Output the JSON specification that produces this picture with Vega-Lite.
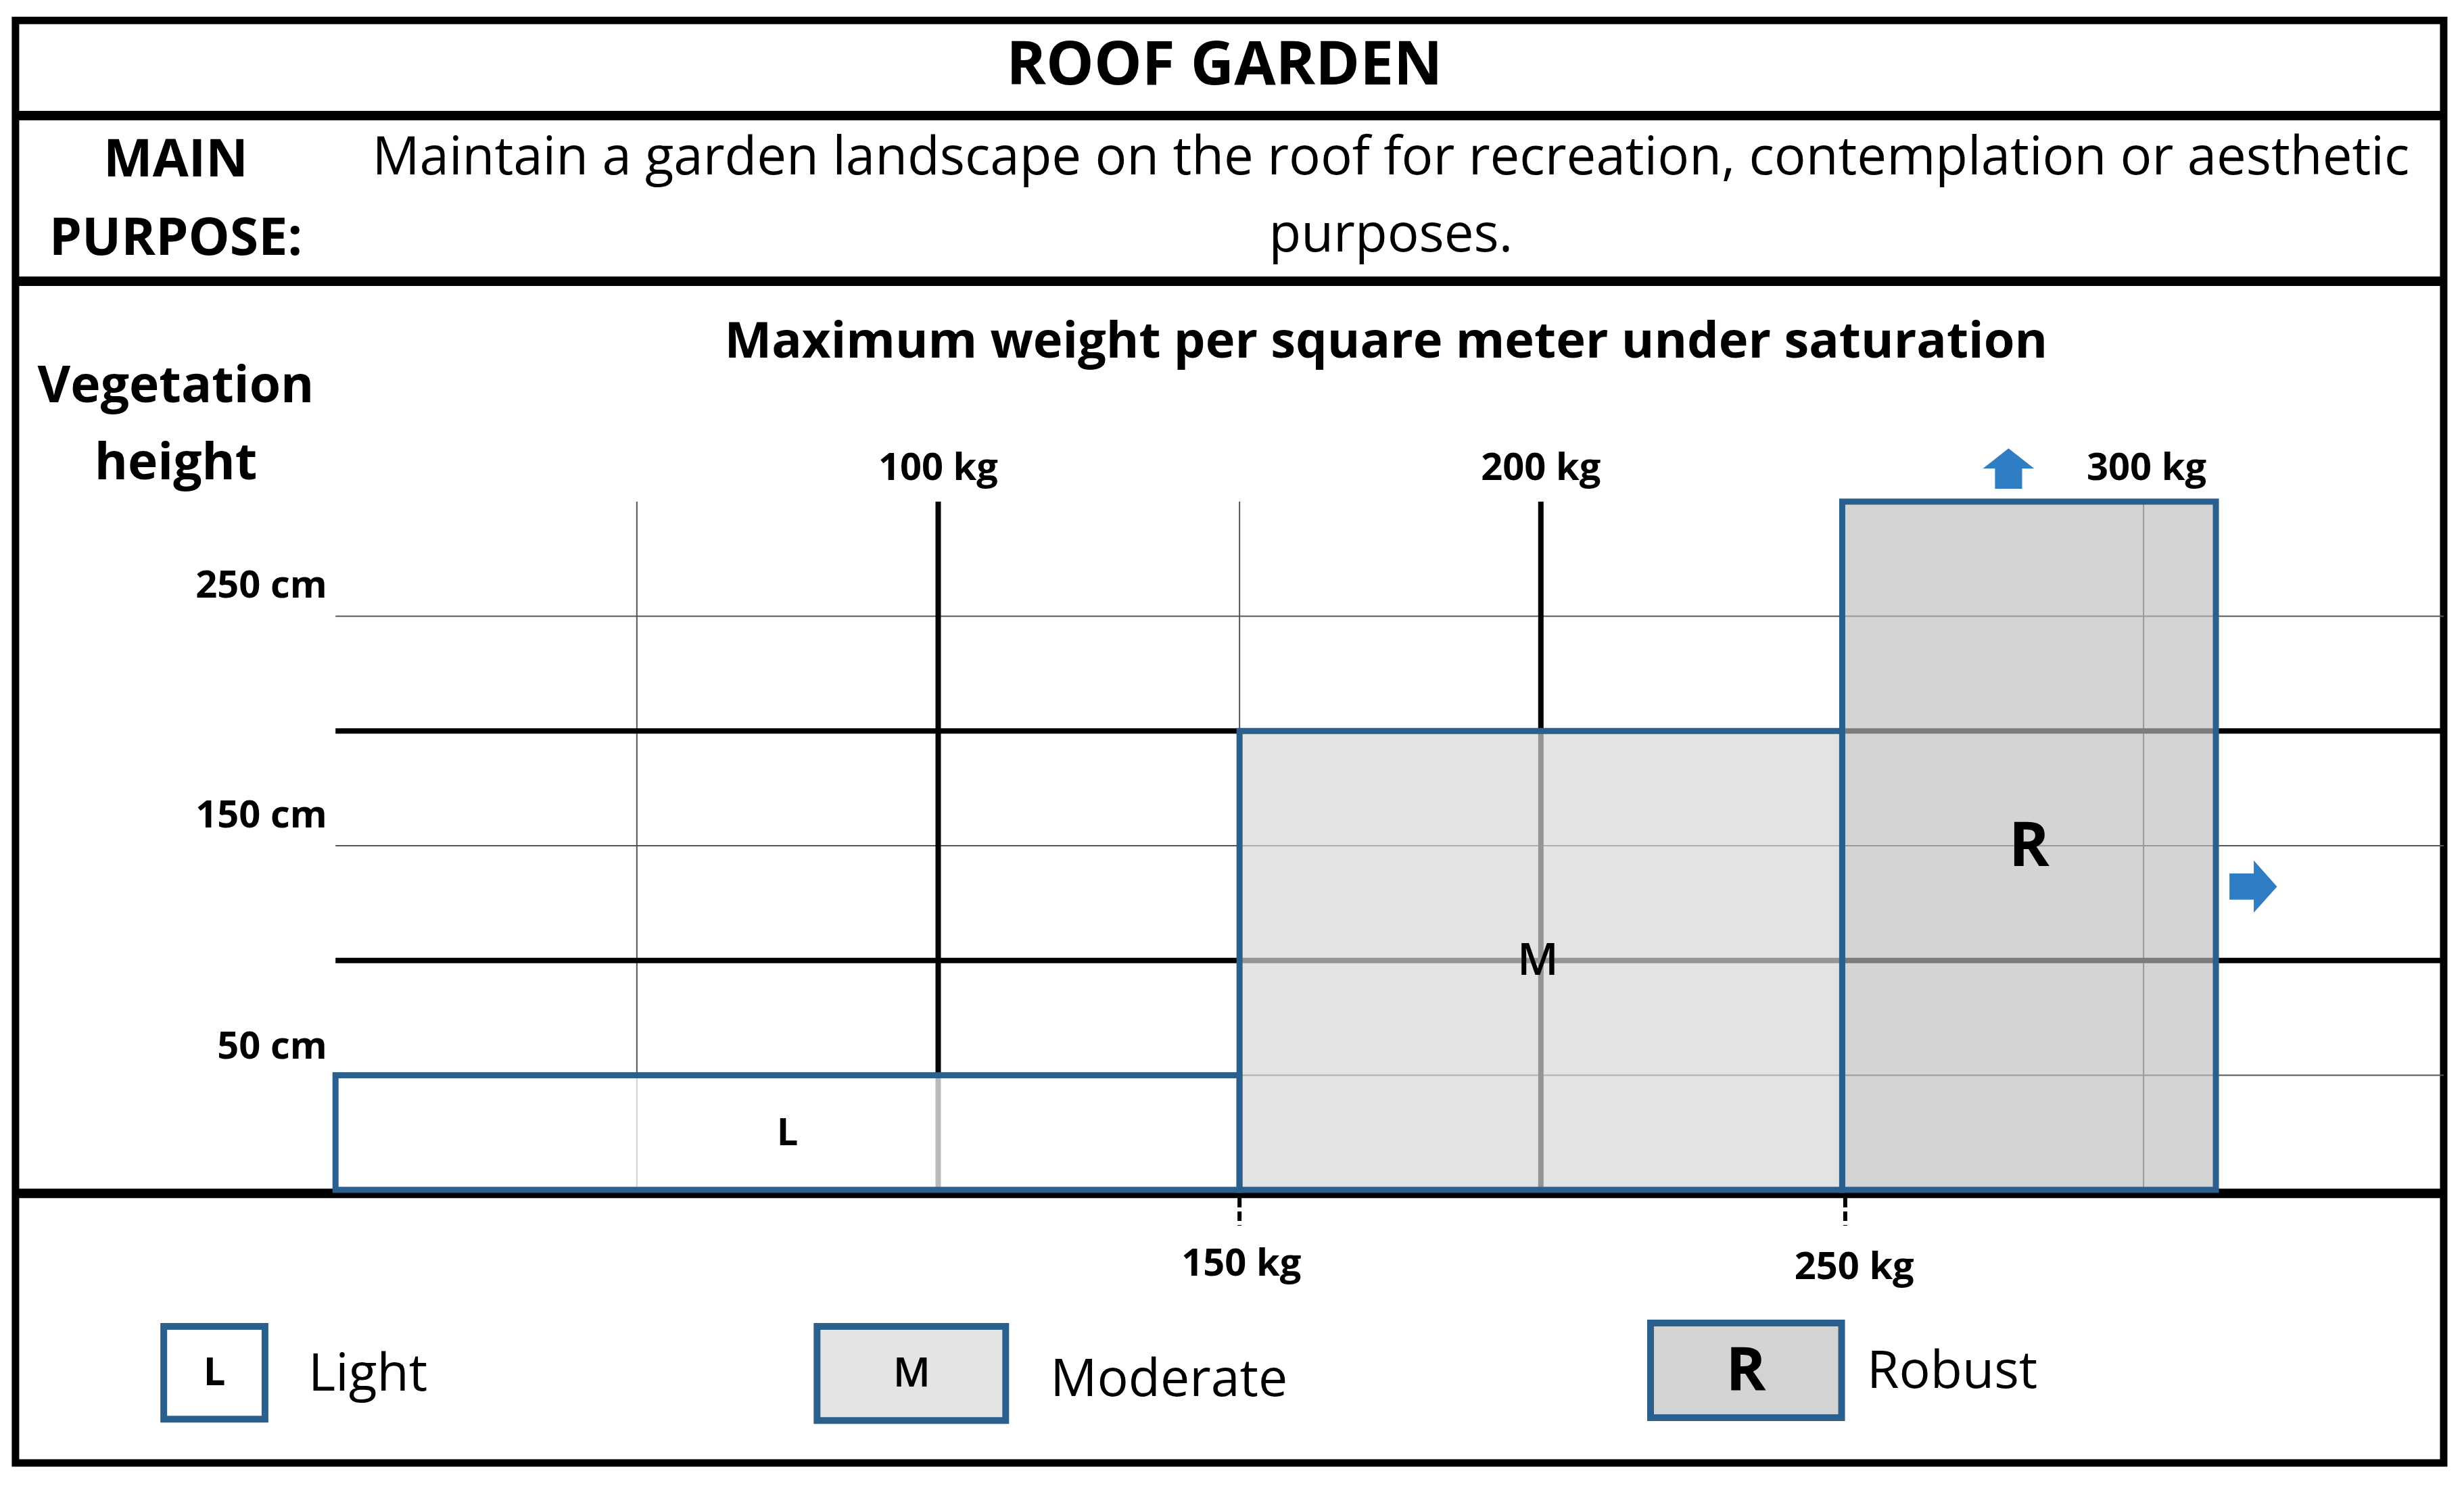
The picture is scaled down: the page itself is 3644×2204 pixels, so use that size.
{
  "$schema": "https://vega.github.io/schema/vega-lite/v6.json",
  "width": 3644,
  "height": 2204,
  "autosize": {"type": "fit", "contains": "padding"},
  "padding": 0,
  "background": "white",
  "config": {"view": {"stroke": null}, "text": {"font": "Open Sans", "color": "black"}},
  "datasets": {
    "frame": [{"x": -53.1, "x2": 349.8, "y": 509.7, "y2": -119.0}],
    "seps": [
      {"x": -53.1, "x2": 349.8, "y": 468.2, "y2": 468.2},
      {"x": -53.1, "x2": 349.8, "y": 396.0, "y2": 396.0},
      {"x": -53.1, "x2": 349.8, "y": -1.5, "y2": -1.5}
    ],
    "thin": [
      {"x": 0, "x2": 349.8, "y": 50, "y2": 50},
      {"x": 0, "x2": 349.8, "y": 150, "y2": 150},
      {"x": 0, "x2": 349.8, "y": 250, "y2": 250},
      {"x": 50, "x2": 50, "y": 0, "y2": 300},
      {"x": 150, "x2": 150, "y": 0, "y2": 300},
      {"x": 300, "x2": 300, "y": 0, "y2": 300}
    ],
    "thick": [
      {"x": 0, "x2": 349.8, "y": 100, "y2": 100},
      {"x": 0, "x2": 349.8, "y": 200, "y2": 200},
      {"x": 100, "x2": 100, "y": 0, "y2": 300},
      {"x": 200, "x2": 200, "y": 0, "y2": 300}
    ],
    "boxes": [
      {"cls": "L", "x": 0, "x2": 150, "y": 0, "y2": 50},
      {"cls": "M", "x": 150, "x2": 250, "y": 0, "y2": 200},
      {"cls": "R", "x": 250, "x2": 312, "y": 0, "y2": 300}
    ],
    "legboxes": [
      {"cls": "L", "x": -28.5, "x2": -11.7, "y": -59.5, "y2": -99.9},
      {"cls": "M", "x": 79.9, "x2": 111.2, "y": -59.5, "y2": -100.5},
      {"cls": "R", "x": 218.2, "x2": 249.9, "y": -58.0, "y2": -99.3}
    ],
    "ticks": [
      {"x": 150, "x2": 150, "y": -3.5, "y2": -15.6},
      {"x": 250.5, "x2": 250.5, "y": -3.5, "y2": -15.6}
    ],
    "arrows": [
      {"dir": "up", "x": 277.6, "y": 314.4},
      {"dir": "right", "x": 318.2, "y": 132.2}
    ],
    "texts": [
      {"role": "title", "label": "ROOF GARDEN", "x": 147.5, "y": 489.7},
      {"role": "head", "label": "MAIN", "x": -26.5, "y": 448.6},
      {"role": "head", "label": "PURPOSE:", "x": -26.5, "y": 414.4},
      {"role": "purpose", "label": "Maintain a garden landscape on the roof for recreation, contemplation or aesthetic", "x": 175.1, "y": 449.3},
      {"role": "purpose", "label": "purposes.", "x": 175.1, "y": 415.8},
      {"role": "ctitle", "label": "Maximum weight per square meter under saturation", "x": 174.3, "y": 369.2},
      {"role": "ytitle", "label": "Vegetation", "x": -26.5, "y": 350.0},
      {"role": "ytitle", "label": "height", "x": -26.5, "y": 316.4},
      {"role": "xtick", "label": "100 kg", "x": 100, "y": 314.4},
      {"role": "xtick", "label": "200 kg", "x": 200, "y": 314.4},
      {"role": "xtick", "label": "300 kg", "x": 300.5, "y": 314.4},
      {"role": "xtick", "label": "150 kg", "x": 150.3, "y": -32.5},
      {"role": "xtick", "label": "250 kg", "x": 252, "y": -34},
      {"role": "ytick", "label": "250 cm", "x": -1.4, "y": 263},
      {"role": "ytick", "label": "150 cm", "x": -1.4, "y": 163},
      {"role": "ytick", "label": "50 cm", "x": -1.4, "y": 62.3},
      {"role": "boxL", "label": "L", "x": 75, "y": 24.5},
      {"role": "boxM", "label": "M", "x": 199.5, "y": 99.7},
      {"role": "boxR", "label": "R", "x": 281, "y": 149},
      {"role": "legL", "label": "L", "x": -20.1, "y": -80},
      {"role": "legM", "label": "M", "x": 95.6, "y": -80.5},
      {"role": "legR", "label": "R", "x": 234, "y": -79.6},
      {"role": "legtext", "label": "Light", "x": -4.5, "y": -87.5},
      {"role": "legtext", "label": "Moderate", "x": 118.6, "y": -89.9},
      {"role": "legtext", "label": "Robust", "x": 254.1, "y": -86.3}
    ]
  },
  "encoding": {
    "x": {"field": "x", "type": "quantitative", "scale": {"domain": [-55.67, 353.17], "nice": false, "zero": false}, "axis": null},
    "y": {"field": "y", "type": "quantitative", "scale": {"domain": [-130.8, 518.6], "nice": false, "zero": false}, "axis": null}
  },
  "resolve": {"scale": {"fill": "independent", "fillOpacity": "independent"}},
  "layer": [
    {
      "data": {"name": "seps"},
      "mark": {"type": "rule", "color": "black", "strokeWidth": 14},
      "encoding": {"x2": {"field": "x2"}, "y2": {"field": "y2"}}
    },
    {
      "data": {"name": "frame"},
      "mark": {"type": "rect", "fill": "white", "fillOpacity": 0, "stroke": "black", "strokeWidth": 11},
      "encoding": {"x2": {"field": "x2"}, "y2": {"field": "y2"}}
    },
    {
      "data": {"name": "thin"},
      "mark": {"type": "rule", "color": "#555555", "strokeWidth": 2},
      "encoding": {"x2": {"field": "x2"}, "y2": {"field": "y2"}}
    },
    {
      "data": {"name": "thick"},
      "mark": {"type": "rule", "color": "black", "strokeWidth": 8},
      "encoding": {"x2": {"field": "x2"}, "y2": {"field": "y2"}}
    },
    {
      "data": {"name": "boxes"},
      "mark": {"type": "rect", "stroke": "#2b5f8e", "strokeWidth": 9, "strokeOpacity": 1},
      "encoding": {
        "x2": {"field": "x2"},
        "y2": {"field": "y2"},
        "fill": {"field": "cls", "type": "nominal", "scale": {"domain": ["L", "M", "R"], "range": ["#ffffff", "#d6d6d6", "#bebebe"]}, "legend": null},
        "fillOpacity": {"field": "cls", "type": "ordinal", "scale": {"domain": ["L", "M", "R"], "range": [0.73, 0.655, 0.68]}, "legend": null}
      }
    },
    {
      "data": {"name": "legboxes"},
      "mark": {"type": "rect", "stroke": "#2b5f8e", "strokeWidth": 10},
      "encoding": {
        "x2": {"field": "x2"},
        "y2": {"field": "y2"},
        "fill": {"field": "cls", "type": "nominal", "scale": {"domain": ["L", "M", "R"], "range": ["#ffffff", "#e4e4e4", "#d3d3d3"]}, "legend": null}
      }
    },
    {
      "data": {"name": "ticks"},
      "mark": {"type": "rule", "color": "black", "strokeWidth": 6, "strokeDash": [14, 6]},
      "encoding": {"x2": {"field": "x2"}, "y2": {"field": "y2"}}
    },
    {
      "data": {"name": "arrows"},
      "transform": [{"filter": {"field": "dir", "equal": "up"}}],
      "mark": {"type": "point", "filled": true, "color": "#2f7ec4", "opacity": 1, "size": 5730, "shape": "M0,-0.79L1,0L0.53,0L0.53,0.79L-0.53,0.79L-0.53,0L-1,0Z"}
    },
    {
      "data": {"name": "arrows"},
      "transform": [{"filter": {"field": "dir", "equal": "right"}}],
      "mark": {"type": "point", "filled": true, "color": "#2f7ec4", "opacity": 1, "size": 5975, "shape": "M0.91,0L0.02,1L0.02,0.5L-0.91,0.5L-0.91,-0.5L0.02,-0.5L0.02,-1Z"}
    },
    {
      "data": {"name": "texts"},
      "transform": [{"filter": {"field": "role", "equal": "title"}}],
      "mark": {"type": "text", "fontSize": 89, "fontWeight": "bold", "align": "center", "baseline": "middle"},
      "encoding": {"text": {"field": "label"}}
    },
    {
      "data": {"name": "texts"},
      "transform": [{"filter": {"field": "role", "equal": "head"}}],
      "mark": {"type": "text", "fontSize": 77, "fontWeight": "bold", "align": "center", "baseline": "middle"},
      "encoding": {"text": {"field": "label"}}
    },
    {
      "data": {"name": "texts"},
      "transform": [{"filter": {"field": "role", "equal": "purpose"}}],
      "mark": {"type": "text", "fontSize": 78, "align": "center", "baseline": "middle"},
      "encoding": {"text": {"field": "label"}}
    },
    {
      "data": {"name": "texts"},
      "transform": [{"filter": {"field": "role", "equal": "ctitle"}}],
      "mark": {"type": "text", "fontSize": 74, "fontWeight": "bold", "align": "center", "baseline": "middle"},
      "encoding": {"text": {"field": "label"}}
    },
    {
      "data": {"name": "texts"},
      "transform": [{"filter": {"field": "role", "equal": "ytitle"}}],
      "mark": {"type": "text", "fontSize": 75, "fontWeight": "bold", "align": "center", "baseline": "middle"},
      "encoding": {"text": {"field": "label"}}
    },
    {
      "data": {"name": "texts"},
      "transform": [{"filter": {"field": "role", "equal": "xtick"}}],
      "mark": {"type": "text", "fontSize": 56, "fontWeight": "bold", "align": "center", "baseline": "middle"},
      "encoding": {"text": {"field": "label"}}
    },
    {
      "data": {"name": "texts"},
      "transform": [{"filter": {"field": "role", "equal": "ytick"}}],
      "mark": {"type": "text", "fontSize": 56, "fontWeight": "bold", "align": "right", "baseline": "middle"},
      "encoding": {"text": {"field": "label"}}
    },
    {
      "data": {"name": "texts"},
      "transform": [{"filter": {"field": "role", "equal": "boxL"}}],
      "mark": {"type": "text", "fontSize": 56, "fontWeight": "bold", "align": "center", "baseline": "middle"},
      "encoding": {"text": {"field": "label"}}
    },
    {
      "data": {"name": "texts"},
      "transform": [{"filter": {"field": "role", "equal": "boxM"}}],
      "mark": {"type": "text", "fontSize": 66, "fontWeight": 600, "align": "center", "baseline": "middle"},
      "encoding": {"text": {"field": "label"}}
    },
    {
      "data": {"name": "texts"},
      "transform": [{"filter": {"field": "role", "equal": "boxR"}}],
      "mark": {"type": "text", "fontSize": 91, "fontWeight": "bold", "align": "center", "baseline": "middle"},
      "encoding": {"text": {"field": "label"}}
    },
    {
      "data": {"name": "texts"},
      "transform": [{"filter": {"field": "role", "equal": "legL"}}],
      "mark": {"type": "text", "fontSize": 58, "fontWeight": "bold", "align": "center", "baseline": "middle"},
      "encoding": {"text": {"field": "label"}}
    },
    {
      "data": {"name": "texts"},
      "transform": [{"filter": {"field": "role", "equal": "legM"}}],
      "mark": {"type": "text", "fontSize": 60, "fontWeight": 600, "align": "center", "baseline": "middle"},
      "encoding": {"text": {"field": "label"}}
    },
    {
      "data": {"name": "texts"},
      "transform": [{"filter": {"field": "role", "equal": "legR"}}],
      "mark": {"type": "text", "fontSize": 90, "fontWeight": "bold", "align": "center", "baseline": "middle"},
      "encoding": {"text": {"field": "label"}}
    },
    {
      "data": {"name": "texts"},
      "transform": [{"filter": {"field": "role", "equal": "legtext"}}],
      "mark": {"type": "text", "fontSize": 77, "align": "left", "baseline": "alphabetic"},
      "encoding": {"text": {"field": "label"}}
    }
  ]
}
